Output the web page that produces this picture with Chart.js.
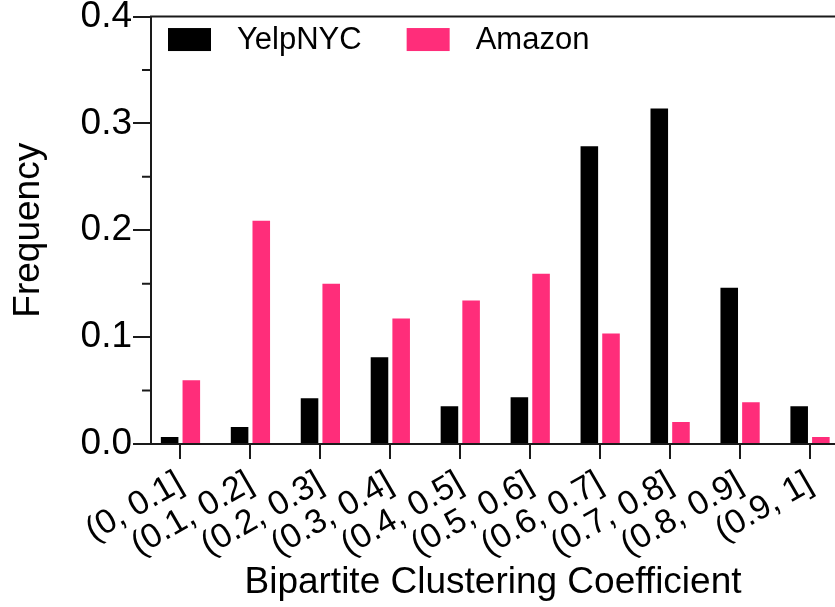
<!DOCTYPE html>
<html><head><meta charset="utf-8">
<script src="https://cdn.jsdelivr.net/npm/chart.js@4.4.0/dist/chart.umd.min.js"></script>
<style>html,body{margin:0;padding:0;background:#fff}#wrap{width:835px;height:607px;position:relative;overflow:hidden}</style>
</head><body><div id="wrap"><canvas id="c"></canvas></div>
<script>
const categories = ['(0, 0.1]','(0.1, 0.2]','(0.2, 0.3]','(0.3, 0.4]','(0.4, 0.5]','(0.5, 0.6]','(0.6, 0.7]','(0.7, 0.8]','(0.8, 0.9]','(0.9, 1]'];
const yelpNYC = [0.0065,0.0158,0.0429,0.0811,0.0354,0.0438,0.2787,0.3140,0.1463,0.0354];
const amazon  = [0.0596,0.2088,0.1500,0.1174,0.1342,0.1594,0.1034,0.0205,0.0391,0.0065];
const yTicks = [0,0.1,0.2,0.3,0.4];
const yMinorTicks = [0.05,0.15,0.25,0.35];

const FONT = "'Liberation Sans', Arial, Helvetica, sans-serif";
const AX = '#1a1a1a';

const framePlugin = {
  id: 'frame',
  afterDraw(chart) {
    const {ctx, chartArea: a} = chart;
    const ys = chart.scales.y;
    ctx.save();
    ctx.strokeStyle = AX; ctx.lineWidth = 2;
    ctx.beginPath();
    ctx.moveTo(a.left - 1, a.top); ctx.lineTo(a.right, a.top);
    yMinorTicks.forEach(v => {
      const p = ys.getPixelForValue(v);
      ctx.moveTo(a.left - 9, p); ctx.lineTo(a.left, p);
    });
    ctx.stroke();
    // legend
    let x = a.left + 17;
    const boxW = 43, boxH = 23, yTop = a.top + 11.5;
    ctx.font = '31px ' + FONT;
    ctx.textBaseline = 'middle'; ctx.textAlign = 'left';
    chart.data.datasets.forEach(ds => {
      ctx.fillStyle = ds.backgroundColor;
      ctx.fillRect(x, yTop, boxW, boxH);
      ctx.fillStyle = '#000';
      ctx.fillText(ds.label, x + boxW + 26, yTop + boxH / 2 + 1);
      x += boxW + 26 + ctx.measureText(ds.label).width + 45;
    });
    ctx.restore();
  }
};

new Chart(document.getElementById('c'), {
  type: 'bar',
  data: {
    datasets: [
      {label: 'YelpNYC', data: categories.map((c, i) => ({x: i, y: yelpNYC[i]})), backgroundColor: '#000000',
       categoryPercentage: 0.62, barPercentage: 0.81},
      {label: 'Amazon', data: categories.map((c, i) => ({x: i, y: amazon[i]})), backgroundColor: '#ff2d7a',
       categoryPercentage: 0.62, barPercentage: 0.81}
    ]
  },
  options: {
    responsive: true, maintainAspectRatio: false, animation: false,
    layout: {padding: 0},
    plugins: {legend: {display: false}, tooltip: {enabled: false}},
    scales: {
      x: {
        type: 'linear', min: -0.4214, max: 9.357, offset: false,
        afterBuildTicks: s => { s.ticks = categories.map((c, i) => ({value: i})); },
        afterFit: s => { s.height = 163; },
        grid: {offset: false, drawOnChartArea: false, drawTicks: true, tickLength: 15, color: AX, lineWidth: 2},
        border: {display: true, color: AX, width: 2},
        ticks: {autoSkip: false, minRotation: 30, maxRotation: 30, padding: 4, color: '#000',
          font: {family: FONT, size: 34}, callback: v => categories[v]},
        title: {display: true, text: 'Bipartite Clustering Coefficient', color: '#000',
          font: {family: FONT, size: 37}, padding: {top: 0, bottom: 2}}
      },
      y: {
        min: 0, max: 0.4,
        afterBuildTicks: s => { s.ticks = yTicks.map(v => ({value: v})); },
        afterFit: s => { s.width = 151; },
        grid: {drawOnChartArea: false, drawTicks: true, tickLength: 18, color: AX, lineWidth: 2},
        border: {display: true, color: AX, width: 2},
        ticks: {padding: 1, color: '#000', font: {family: FONT, size: 37, lineHeight: 0.84},
          callback: v => Number(v).toFixed(1)},
        title: {display: true, text: 'Frequency', color: '#000',
          font: {family: FONT, size: 37}, padding: {top: 7, bottom: 0}}
      }
    }
  },
  plugins: [framePlugin]
});
</script>
</body></html>
